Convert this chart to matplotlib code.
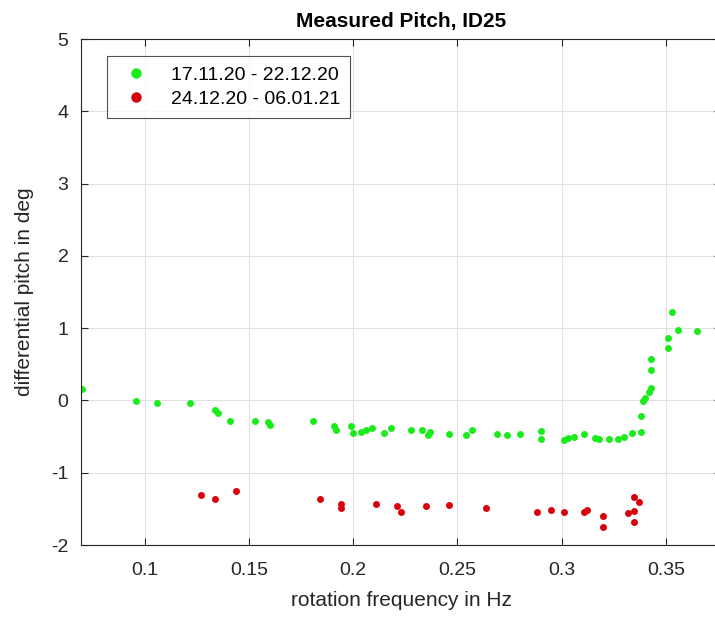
import numpy as np
import matplotlib.pyplot as plt

# Green series: 17.11.20 - 22.12.20
freq_a = [0.070, 0.096, 0.106, 0.122, 0.134, 0.135, 0.141, 0.153, 0.159, 0.160,
          0.181, 0.191, 0.192, 0.199, 0.200, 0.204, 0.206, 0.209, 0.215, 0.218,
          0.228, 0.233, 0.236, 0.237, 0.246, 0.254, 0.257, 0.269, 0.274, 0.280,
          0.290, 0.290, 0.301, 0.303, 0.306, 0.311, 0.316, 0.318, 0.323, 0.327,
          0.330, 0.334, 0.338, 0.338, 0.339, 0.340, 0.342, 0.343, 0.343, 0.343,
          0.351, 0.351, 0.353, 0.356, 0.365]
pitch_a = [0.16, -0.01, -0.04, -0.03, -0.13, -0.18, -0.29, -0.28, -0.30, -0.34,
           -0.28, -0.36, -0.41, -0.36, -0.45, -0.43, -0.41, -0.38, -0.45, -0.38,
           -0.41, -0.41, -0.48, -0.43, -0.47, -0.48, -0.41, -0.47, -0.48, -0.47,
           -0.42, -0.53, -0.55, -0.52, -0.50, -0.47, -0.52, -0.54, -0.53, -0.53,
           -0.51, -0.45, -0.43, -0.22, -0.01, 0.03, 0.12, 0.17, 0.42, 0.57,
           0.72, 0.87, 1.22, 0.98, 0.96]

# Red series: 24.12.20 - 06.01.21
freq_b = [0.127, 0.134, 0.144, 0.184, 0.194, 0.194, 0.211, 0.221, 0.223, 0.235,
          0.246, 0.264, 0.288, 0.295, 0.301, 0.311, 0.312, 0.320, 0.320, 0.332,
          0.335, 0.337, 0.335, 0.335]
pitch_b = [-1.31, -1.36, -1.25, -1.36, -1.43, -1.49, -1.43, -1.46, -1.55, -1.46,
           -1.44, -1.49, -1.54, -1.51, -1.55, -1.55, -1.52, -1.60, -1.75, -1.56,
           -1.33, -1.40, -1.53, -1.68]

labels = ['17.11.20 - 22.12.20', '24.12.20 - 06.01.21']

plt.rcParams['font.family'] = ['Liberation Sans', 'DejaVu Sans']
plt.rcParams['axes.unicode_minus'] = False

dark = (0.15, 0.15, 0.15)

fig = plt.figure(figsize=(7.15, 6.17), dpi=100)
ax = fig.add_axes([81 / 715, 72 / 617, 640 / 715, 506 / 617])

ax.plot(freq_a, pitch_a, 'o', color=(0.1, 0.92, 0.1), markersize=5,
        markeredgewidth=0, label=labels[0])
ax.plot(freq_b, pitch_b, 'o', color=(0.85, 0.0, 0.05), markersize=5,
        markeredgewidth=0, label=labels[1])

ax.set_xlim(0.0695, 0.3765)
ax.set_ylim(-2, 5)
ax.set_xticks([0.1, 0.15, 0.2, 0.25, 0.3, 0.35])
ax.set_xticklabels(['0.1', '0.15', '0.2', '0.25', '0.3', '0.35'])
ax.set_yticks(range(-2, 6))

ax.grid(True, color=(0.88, 0.88, 0.88), linewidth=0.8)
ax.set_axisbelow(True)
for s in ax.spines.values():
    s.set_color(dark)
    s.set_linewidth(0.8)
ax.tick_params(direction='in', length=5, width=0.8, colors=dark,
               labelsize=14, top=True, right=True)
ax.tick_params(axis='x', pad=12)
ax.tick_params(axis='y', pad=9)

ax.set_xlabel('rotation frequency in Hz', fontsize=15, color=dark, labelpad=9)
ax.set_ylabel('differential pitch in deg', fontsize=15, color=dark, labelpad=12)
ax.set_title('Measured Pitch, ID25', fontsize=15, fontweight='bold', pad=9)

leg = ax.legend(loc='upper left', bbox_to_anchor=(0.025, 0.985), fontsize=14,
                frameon=True, fancybox=False, edgecolor=dark,
                markerscale=1.5, handletextpad=0.8, borderpad=0.5,
                labelspacing=0.35)
leg.get_frame().set_linewidth(0.8)

plt.savefig('out.png', dpi=100)
